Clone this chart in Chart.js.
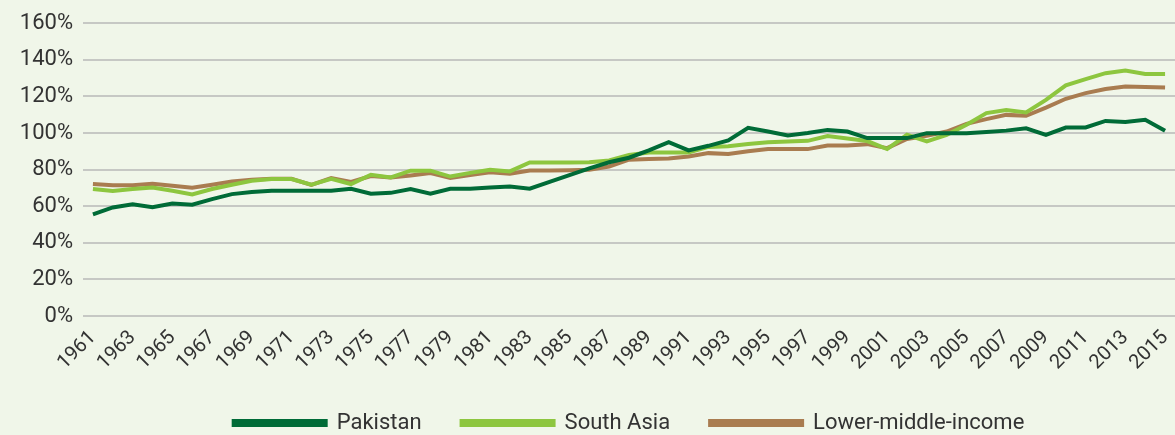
<!DOCTYPE html>
<html>
<head>
<meta charset="utf-8">
<script src="https://cdn.jsdelivr.net/npm/chart.js@4/dist/chart.umd.min.js"></script>
<style>
  html, body { margin: 0; padding: 0; background: #f0f6e9; }
  #wrap { width: 1175px; height: 435px; }
</style>
</head>
<body>
<div id="wrap"><canvas id="chart"></canvas></div>
<script>
// years on the x axis
const years = [];
for (let y = 1961; y <= 2015; y++) years.push(String(y));

const pakistan = [
  55.5, 59.3, 61.0, 59.5, 61.5, 60.8, 63.9, 66.6, 67.7, 68.4,
  68.4, 68.4, 68.4, 69.5, 66.8, 67.3, 69.4, 66.8, 69.5, 69.5,
  70.2, 70.8, 69.6, 73.3, 77.0, 80.7, 84.0, 86.5, 90.5, 95.0,
  90.5, 93.0, 95.9, 102.8, 100.8, 98.6, 100.0, 101.7, 100.8, 97.2,
  97.2, 97.2, 99.9, 99.9, 99.9, 100.5, 101.3, 102.6, 99.0, 103.0,
  103.0, 106.6, 106.0, 107.2, 101.2
];

const southAsia = [
  69.4, 68.3, 69.4, 70.2, 68.4, 66.4, 69.4, 71.7, 73.9, 74.8,
  74.8, 71.7, 75.0, 72.1, 77.2, 75.7, 79.4, 79.4, 76.2, 78.2,
  79.9, 79.0, 83.9, 83.9, 83.9, 84.0, 85.0, 88.0, 89.4, 89.4,
  89.4, 92.4, 92.8, 94.0, 95.0, 95.3, 95.7, 98.3, 97.0, 95.6,
  91.2, 99.0, 95.4, 99.0, 104.5, 110.9, 112.5, 111.2, 118.1, 126.0,
  129.4, 132.7, 134.1, 132.3, 132.3
];

const lowerMiddle = [
  72.1, 71.5, 71.5, 72.3, 71.2, 70.1, 71.7, 73.5, 74.4, 75.0,
  75.0, 71.7, 75.4, 73.3, 76.5, 75.7, 76.8, 78.1, 75.4, 77.0,
  78.6, 77.7, 79.5, 79.5, 79.6, 79.9, 81.7, 85.4, 85.8, 86.1,
  87.2, 89.0, 88.5, 90.0, 91.2, 91.2, 91.2, 93.2, 93.2, 93.9,
  91.7, 96.7, 98.5, 100.8, 105.0, 107.6, 109.9, 109.4, 113.9, 118.7,
  121.8, 124.0, 125.4, 125.2, 124.9
];

const yTicks = [0, 20, 40, 60, 80, 100, 120, 140, 160];

const textColor = "#333333";

new Chart(document.getElementById("chart"), {
  type: "line",
  data: {
    labels: years,
    datasets: [
      {
        label: "Pakistan",
        data: pakistan,
        borderColor: "#006b37",
        backgroundColor: "#006b37",
        borderWidth: 4,
      },
      {
        label: "South Asia",
        data: southAsia,
        borderColor: "#8dc63f",
        backgroundColor: "#8dc63f",
        borderWidth: 4,
      },
      {
        label: "Lower-middle-income",
        data: lowerMiddle,
        borderColor: "#a97c50",
        backgroundColor: "#a97c50",
        borderWidth: 4,
      },
    ],
  },
  options: {
    responsive: true,
    maintainAspectRatio: false,
    animation: false,
    layout: { padding: { top: 12, right: 0, left: 0, bottom: -9 } },
    elements: {
      point: { radius: 0 },
      line: { tension: 0, borderJoinStyle: "miter" },
    },
    plugins: {
      tooltip: { enabled: false },
      legend: {
        position: "bottom",
        fullSize: false,
        labels: {
          boxWidth: 92,
          boxHeight: 4,
          padding: 40,
          color: textColor,
          font: { family: "Roboto", size: 22 },
        },
      },
    },
    scales: {
      x: {
        offset: true,
        grid: { display: false },
        border: { display: false },
        ticks: {
          autoSkip: false,
          minRotation: 45,
          maxRotation: 45,
          padding: 2,
          color: textColor,
          font: { family: "Roboto", size: 20 },
          callback: function (value, index) {
            return index % 2 === 0 ? years[index] : "";
          },
        },
        afterFit: function (scale) {
          scale.height = 56;
          scale.paddingLeft = 0;
          scale.paddingRight = 0;
        },
      },
      y: {
        min: 0,
        max: 160,
        afterBuildTicks: function (scale) {
          scale.ticks = yTicks.map((v) => ({ value: v }));
        },
        grid: { color: "#c6c8c4", lineWidth: 2, drawTicks: false },
        border: { display: false },
        ticks: {
          padding: 10,
          color: textColor,
          font: { family: "Roboto", size: 22 },
          callback: (v) => v + "%",
        },
        afterFit: function (scale) {
          scale.width = 83;
        },
      },
    },
  },
});
</script>
</body>
</html>
